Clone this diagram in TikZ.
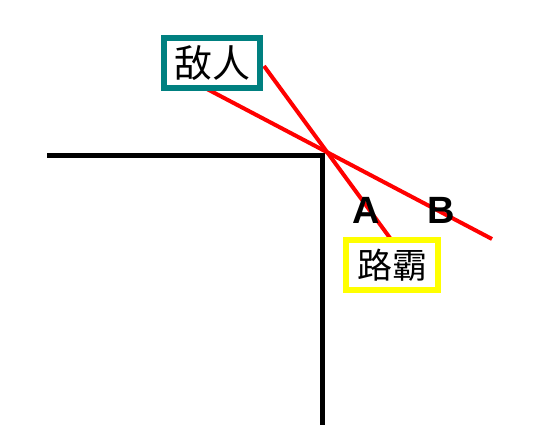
\documentclass[tikz,border=0pt]{standalone}
\usepackage{fontspec}
\setmainfont{Liberation Sans}
\newfontfamily\cjk{Noto Sans CJK SC}
\definecolor{tealbox}{RGB}{0,128,128}
\definecolor{ybox}{RGB}{255,255,0}
\begin{document}
\begin{tikzpicture}[x=1pt,y=-1pt,
  wall/.style={line width=5pt,black},
  ray/.style={line width=4pt,red},
  lbl/.style={font=\bfseries\fontsize{38}{38}\selectfont, inner sep=0pt},
  cbox/.style={line width=5.5pt, fill=white, inner sep=0pt, minimum height=50pt, font=\cjk\fontsize{38}{38}\selectfont}]
\useasboundingbox (0,0) rectangle (554,447);
\coordinate (w1) at (47,155);
\coordinate (w2) at (322,155);
\coordinate (w3) at (322,425);
\draw[wall] (w1) -- (w2) -- (w3);
\coordinate (b1) at (207,89);
\coordinate (b2) at (492,239);
\coordinate (a1) at (264,66);
\coordinate (a2) at (390,238);
\draw[ray] (b1) -- (b2);
\draw[ray] (a1) -- (a2);
\node[cbox, draw=tealbox, minimum width=96pt] (enemy) at (212,63) {敌人};
\node[cbox, draw=ybox, minimum width=92pt, font=\cjk\fontsize{35}{35}\selectfont] (lb) at (392,265) {路霸};
\node[lbl] (A) at (366,210) {A};
\node[lbl] (B) at (441,210) {B};
\end{tikzpicture}
\end{document}
